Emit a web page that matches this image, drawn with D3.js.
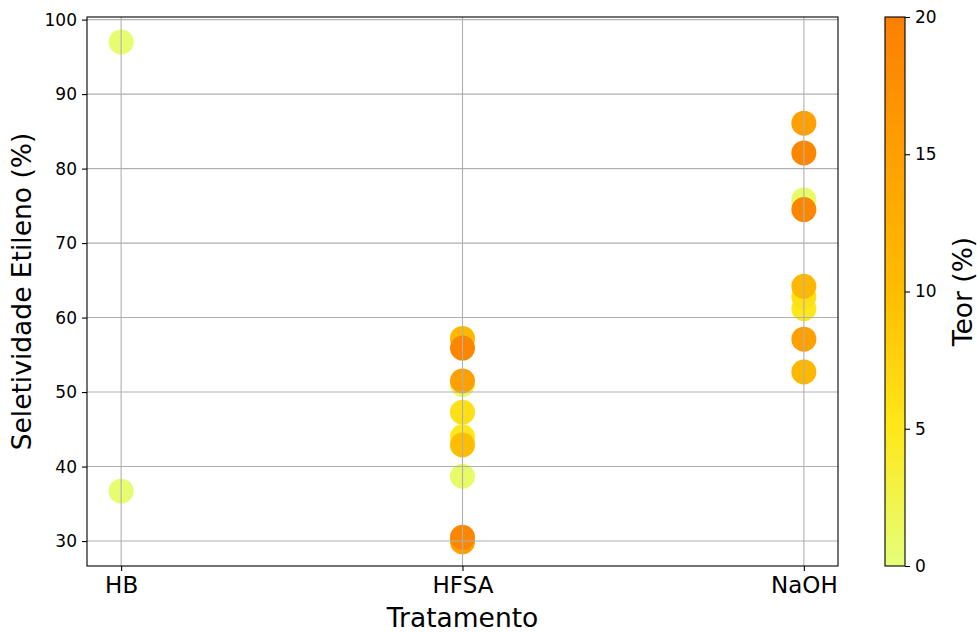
<!DOCTYPE html>
<html><head><meta charset="utf-8">
<script src="https://cdn.jsdelivr.net/npm/d3@7"></script>
<style>body{margin:0;background:#fff}svg{display:block}text{font-family:"DejaVu Sans",sans-serif;fill:#000}</style>
</head><body><svg id="c" width="977" height="632"></svg>
<script>
const categories = ["HB", "HFSA", "NaOH"];
const pointTreatment = ["HB","HB",
  "HFSA","HFSA","HFSA","HFSA","HFSA","HFSA","HFSA","HFSA","HFSA","HFSA",
  "NaOH","NaOH","NaOH","NaOH","NaOH","NaOH","NaOH","NaOH","NaOH"];
const pointSelectivity = [97.0, 36.7,
  57.2, 55.9, 51.5, 51.0, 47.3, 44.0, 42.9, 38.7, 30.5, 29.9,
  86.1, 82.1, 75.8, 74.5, 64.2, 62.8, 61.2, 57.1, 52.7];
const pointTeor = [0.6, 0.6,
  11, 19, 15, 1, 6, 5, 10, 1, 19, 15,
  15, 19, 1, 19, 11, 6, 5, 15, 11];
const yTicks = [30, 40, 50, 60, 70, 80, 90, 100];
const cTicks = [0, 5, 10, 15, 20];
const wistiaStops = ["#e4ff7a", "#ffe81a", "#ffbd00", "#ffa000", "#fc7f00"];

const svg = d3.select("#c");
const L = 87, R = 838, T = 17, B = 566;
const x = d3.scaleLinear().domain([-0.1, 2.1]).range([L, R]);
const y = d3.scaleLinear().domain([26.65, 100.35]).range([B, T]);
const cDomain = [0, 20];
const color = d3.scaleLinear().domain(d3.range(5).map(i => cDomain[0] + i * (cDomain[1]-cDomain[0]) / 4)).range(wistiaStops).clamp(true);

// points (drawn first, grid on top like matplotlib)
const pts = pointTreatment.map((t, i) => ({t, v: pointSelectivity[i], c: pointTeor[i]}))
  .sort((a, b) => a.c - b.c);
svg.append("g").selectAll("circle").data(pts).join("circle")
  .attr("cx", d => x(categories.indexOf(d.t)))
  .attr("cy", d => y(d.v))
  .attr("r", 12.5)
  .attr("fill", d => color(d.c));

// grid
const grid = svg.append("g").attr("stroke", "#b0b0b0").attr("stroke-width", 1.1);
grid.selectAll("line.h").data(yTicks).join("line").attr("class","h")
  .attr("x1", L).attr("x2", R).attr("y1", d => y(d)).attr("y2", d => y(d));
grid.selectAll("line.v").data(categories).join("line").attr("class","v")
  .attr("y1", T).attr("y2", B).attr("x1", (d,i) => x(i)).attr("x2", (d,i) => x(i));

// axes
const yAxis = d3.axisLeft(y).tickValues(yTicks).tickSize(5).tickPadding(5);
const gy = svg.append("g").attr("transform", `translate(${L},0)`).call(yAxis);
gy.select(".domain").remove();
gy.selectAll(".tick line").attr("stroke", "#000").attr("stroke-width", 1.1);
gy.selectAll(".tick text").style("font-size", "17px").style("font-family", "DejaVu Sans");

const xAxis = d3.axisBottom(x).tickValues([0,1,2]).tickFormat(i => categories[i]).tickSize(5).tickPadding(6);
const gx = svg.append("g").attr("transform", `translate(0,${B})`).call(xAxis);
gx.select(".domain").remove();
gx.selectAll(".tick line").attr("stroke", "#000").attr("stroke-width", 1.1);
gx.selectAll(".tick text").style("font-size", "23px").style("font-family", "DejaVu Sans");

svg.append("rect").attr("x", L).attr("y", T).attr("width", R-L).attr("height", B-T)
  .attr("fill", "none").attr("stroke", "#000").attr("stroke-width", 1.1);

svg.append("text").attr("x", (L+R)/2).attr("y", 627).attr("text-anchor", "middle")
  .style("font-size", "26.5px").text("Tratamento");
svg.append("text").attr("transform", `translate(31,${(T+B)/2}) rotate(-90)`).attr("text-anchor", "middle")
  .style("font-size", "26.5px").text("Seletividade Etileno (%)");

// colorbar
const CL = 885, CR = 905;
const cy = d3.scaleLinear().domain(cDomain).range([B, T]);
const defs = svg.append("defs");
const grad = defs.append("linearGradient").attr("id", "wistia").attr("x1", 0).attr("y1", 1).attr("x2", 0).attr("y2", 0);
grad.selectAll("stop").data(wistiaStops).join("stop")
  .attr("offset", (d,i) => i/(wistiaStops.length-1)).attr("stop-color", d => d);
svg.append("rect").attr("x", CL).attr("y", T).attr("width", CR-CL).attr("height", B-T)
  .attr("fill", "url(#wistia)").attr("stroke", "#000").attr("stroke-width", 1.1);
const cAxis = d3.axisRight(cy).tickValues(cTicks).tickSize(5).tickPadding(5);
const gc = svg.append("g").attr("transform", `translate(${CR},0)`).call(cAxis);
gc.select(".domain").remove();
gc.selectAll(".tick line").attr("stroke", "#000").attr("stroke-width", 1.1);
gc.selectAll(".tick text").style("font-size", "17px").style("font-family", "DejaVu Sans");
svg.append("text").attr("transform", `translate(972,${(T+B)/2}) rotate(-90)`).attr("text-anchor", "middle")
  .style("font-size", "26.5px").text("Teor (%)");
</script></body></html>
